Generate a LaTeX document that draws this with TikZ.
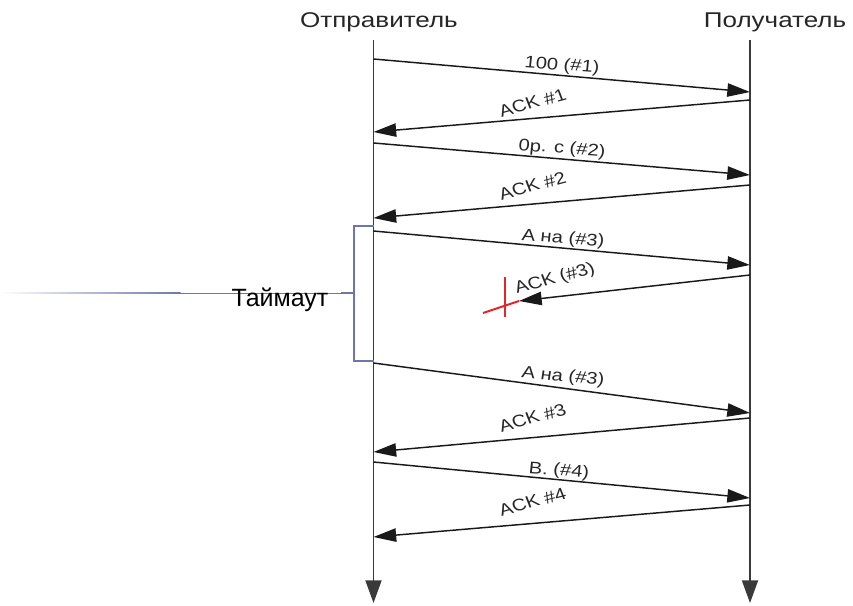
\documentclass[tikz,border=0pt]{standalone}
\usepackage{fontspec}
\setmainfont{Liberation Sans}
\usetikzlibrary{arrows.meta}
\definecolor{lifegray}{HTML}{3A3A3A}
\definecolor{timeoutblue}{HTML}{6B77A8}
\definecolor{crossred}{HTML}{E3262B}

\begin{document}
\begin{tikzpicture}[x=0.75pt,y=-0.75pt,
  head/.style={font=\fontsize{16}{18}\selectfont,text=black!85,xscale=1.22,inner sep=0pt},
  lbl/.style={font=\fontsize{12.6}{14}\selectfont,text=black!85,xscale=1.2,inner sep=0pt,text depth=.25ex,text height=1.5ex},
  life/.style={line width=1.4pt,lifegray,-{Triangle[length=17pt,width=12pt]}},
  msg/.style={line width=1.1pt,black!90,-{Triangle[length=17pt,width=10pt]}},
  bracket/.style={line width=0.9pt,timeoutblue}]
\useasboundingbox (0,0) rectangle (853,606);

%%%Lifelines
%Names on top
\node[head,anchor=base] (sender) at (379,28) {Отправитель};
\node[head,anchor=base] (receiver) at (775,28) {Получатель};
%Vertical lines with arrow at the bottom
\coordinate (s0) at (373.5,40); \coordinate (s1) at (373.5,603);
\coordinate (r0) at (750,40); \coordinate (r1) at (750,603);
\draw[life] (s0) -- (s1);
\draw[life] (r0) -- (r1);

%%%Data, sender to receiver
\foreach \n/\ya/\yb in {1/59/92,2/143/175,3/231/265,4/363/413,5/462/498} {
  \coordinate (d\n a) at (373.5,\ya); \coordinate (d\n b) at (750,\yb);
  \draw[msg] (d\n a) -- (d\n b);
}
\foreach \n/\x/\y/\r/\t in {1/562/66/-5/100 (\#1),2/562/149/-5/0p. c (\#2),3/563/239/-5/А на (\#3),4/563/377/-7/А на (\#3),5/559/471/-5/В. (\#4)}
  \node[lbl,rotate=\r] (dl\n) at (\x,\y) {\t};

%%%Lost ACK and red cross
\draw[crossred,line width=1.5pt] (505,277) -- (505,317);
\draw[crossred,line width=1.5pt] (483,313) -- (519,301);
\coordinate (lost a) at (750,275); \coordinate (lost b) at (519,301);
\draw[msg] (lost a) -- (lost b);
\node[lbl,rotate=18] (lostl) at (555,279) {ACK (\#3)};

%%%ACKs, receiver to sender
\foreach \n/\ya/\yb in {1/100/132,2/185/218,3/418/452,4/505/537} {
  \coordinate (k\n a) at (750,\ya); \coordinate (k\n b) at (373.5,\yb);
  \draw[msg] (k\n a) -- (k\n b);
}
\foreach \n/\y in {1/104,2/187,3/419,4/503}
  \node[lbl,rotate=18] (kl\n) at (533,\y) {ACK \#\n};

%%%Timeout bracket
\coordinate (tt) at (373.5,226); \coordinate (tb) at (373.5,361);
\coordinate (tm) at (354,293); \coordinate (tl) at (341,293);
\draw[bracket] (tt) -- ++(-19.5,0) |- (tb);
\draw[timeoutblue,line width=1.8pt] (tm) -- (tl);
%Long thin line, fading out to the left
\draw[timeoutblue,line width=0.75pt] (tl) -- (180,293);
\shade[left color=white,right color=timeoutblue] (0,292.5) rectangle (180.5,293.5);
\node[anchor=base,inner sep=0pt,font=\fontsize{18.75}{20}\selectfont] (timeout) at (280,306) {Таймаут};

\end{tikzpicture}
\end{document}
